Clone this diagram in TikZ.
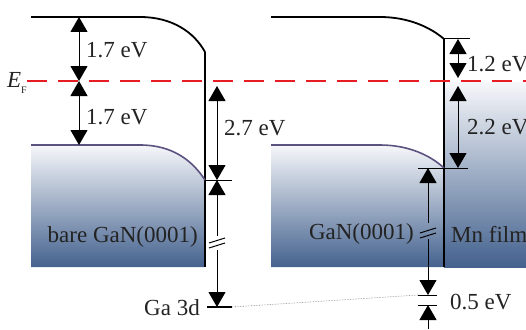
\documentclass[tikz,border=0pt]{standalone}
\usepackage{fontspec}
\setmainfont{Liberation Serif}
\usetikzlibrary{arrows.meta}
\definecolor{gtop}{RGB}{246,247,250}
\definecolor{gbot}{RGB}{68,98,142}
\definecolor{vbline}{RGB}{92,82,128}
\definecolor{efred}{RGB}{230,30,35}
\definecolor{txt}{RGB}{35,35,35}
\tikzset{
  band/.style={line width=1.8pt, black},
  vband/.style={line width=1.6pt, vbline},
  wall/.style={line width=1.8pt, black},
  dim/.style={line width=1pt, black, -{Triangle[length=15pt,width=17pt]}},
  tick/.style={line width=1pt, black},
  brk/.style={line width=1pt, black},
  lbl/.style={font=\fontsize{23}{26}\selectfont, text=txt, inner sep=0pt},
  fermi/.style={line width=2pt, efred, dash pattern=on 20pt off 11pt},
}
\begin{document}
\begin{tikzpicture}[x=1pt,y=-1pt]
\useasboundingbox (0,0) rectangle (526,329);
% ---------- fills ----------
\shade[top color=gtop, bottom color=gbot]
  (31,145) -- (140,145) .. controls (172,145) and (192,160) .. (205,180) -- (205,267) -- (31,267) -- cycle;
\shade[top color=gtop, bottom color=gbot]
  (271,145) -- (380,145) .. controls (408,145) and (430,155) .. (444,168) -- (444,267) -- (271,267) -- cycle;
\shade[top color=gtop, bottom color=gbot]
  (444,82) rectangle (526,267);
% ---------- coordinates ----------
\coordinate (Lcb0) at (31,17);
\coordinate (Lcb1) at (205,52);
\coordinate (Lbot) at (205,267);
\coordinate (Lvb0) at (31,145);
\coordinate (Lvb1) at (205,180);
\coordinate (Rcb0) at (271,17);
\coordinate (Rcb1) at (444,39);
\coordinate (Rbot) at (444,267);
\coordinate (Rvb0) at (271,145);
\coordinate (Rvb1) at (444,168);
\coordinate (EFa) at (27,81);
\coordinate (EFb) at (526,81);
% ---------- band lines ----------
\draw[band] (Lcb0) -- (140,17) .. controls (172,17) and (194,32) .. (Lcb1);
\draw[wall] (Lcb1) -- (Lbot);
\draw[vband] (Lvb0) -- (140,145) .. controls (172,145) and (192,160) .. (Lvb1);
\draw[band] (Rcb0) -- (380,17) .. controls (408,17) and (430,27) .. (Rcb1);
\draw[wall] (Rcb1) -- (Rbot);
\draw[vband] (Rvb0) -- (380,145) .. controls (408,145) and (430,155) .. (Rvb1);
% ---------- Fermi level ----------
\draw[fermi] (EFa) -- (EFb);
\node[lbl, anchor=east] (EF) at (27,83) {\textit{E}\raisebox{-0.5ex}{\fontsize{10}{12}\selectfont F}};
% ---------- left dimension arrows ----------
\coordinate (a1t) at (79,17);
\coordinate (a1m) at (79,49);
\coordinate (a1b) at (79,81);
\coordinate (a2m) at (79,113);
\coordinate (a2b) at (79,145);
\draw[dim] (a1m) -- (a1t);
\draw[dim] (a1m) -- (a1b);
\draw[dim] (a2m) -- (a1b);
\draw[dim] (a2m) -- (a2b);
\node[lbl, anchor=west] (l17a) at (86,50) {1.7 eV};
\node[lbl, anchor=west] (l17b) at (86,117) {1.7 eV};
% 2.7 eV
\coordinate (b1t) at (217,86);
\coordinate (b1m) at (217,133);
\coordinate (b1b) at (217,180);
\draw[dim] (b1m) -- (b1t);
\draw[dim] (b1m) -- (b1b);
\coordinate (tk1a) at (205,180);
\coordinate (tk1b) at (232,180);
\draw[tick] (tk1a) -- (tk1b);
\node[lbl, anchor=west] (l27) at (224,128) {2.7 eV};
% lower left arrow with break
\coordinate (c1u) at (217,236);
\coordinate (c1l) at (217,250);
\coordinate (c1b) at (217,307);
\draw[dim] (c1u) -- (b1b);
\draw[dim] (c1l) -- (c1b);
\draw[brk] (209,243) -- (225,238);
\draw[brk] (209,248) -- (225,243);
\coordinate (ga1) at (207,307);
\coordinate (ga2) at (232,307);
\draw[line width=2.4pt] (ga1) -- (ga2);
\node[lbl, anchor=east] (ga) at (200,308) {Ga 3d};
\node[lbl, anchor=east] (bare) at (198,237) {bare GaN(0001)};
% ---------- right dimension arrows ----------
\coordinate (tk2a) at (444,39);
\coordinate (tk2b) at (470,39);
\draw[tick] (tk2a) -- (tk2b);
\coordinate (d1t) at (458,39);
\coordinate (d1m) at (458,60);
\coordinate (d1b) at (458,78);
\draw[dim] (d1m) -- (d1t);
\draw[dim] (d1m) -- (d1b);
\node[lbl, anchor=west] (l12) at (467,64) {1.2 eV};
\coordinate (d2t) at (458,86);
\coordinate (d2m) at (458,127);
\coordinate (d2b) at (458,168);
\draw[dim] (d2m) -- (d2t);
\draw[dim] (d2m) -- (d2b);
\node[lbl, anchor=west] (l22) at (467,127) {2.2 eV};
\coordinate (tk3a) at (418,168);
\coordinate (tk3b) at (468,168);
\draw[tick] (tk3a) -- (tk3b);
% lower right arrow with break
\coordinate (e1t) at (428,168);
\coordinate (e1u) at (428,223);
\coordinate (e1l) at (428,239);
\coordinate (e1b) at (428,295);
\draw[dim] (e1u) -- (e1t);
\draw[dim] (e1l) -- (e1b);
\draw[brk] (420,233) -- (436,228);
\draw[brk] (420,238) -- (436,233);
\coordinate (tk4a) at (418,295);
\coordinate (tk4b) at (437,295);
\coordinate (tk5a) at (418,305);
\coordinate (tk5b) at (437,305);
\draw[tick] (tk4a) -- (tk4b);
\draw[tick] (tk5a) -- (tk5b);
\coordinate (e2b) at (428,329);
\coordinate (e2t) at (428,305);
\draw[dim] (e2b) -- (e2t);
\node[lbl, anchor=west] (l05) at (450,302) {0.5 eV};
\node[lbl, anchor=east] (gan) at (414,234) {GaN(0001)};
\node[lbl, anchor=west] (mn) at (451,234) {Mn film};
% dotted connector
\draw[line width=0.6pt, gray, densely dotted] (ga2) -- (tk4a);
\end{tikzpicture}
\end{document}
